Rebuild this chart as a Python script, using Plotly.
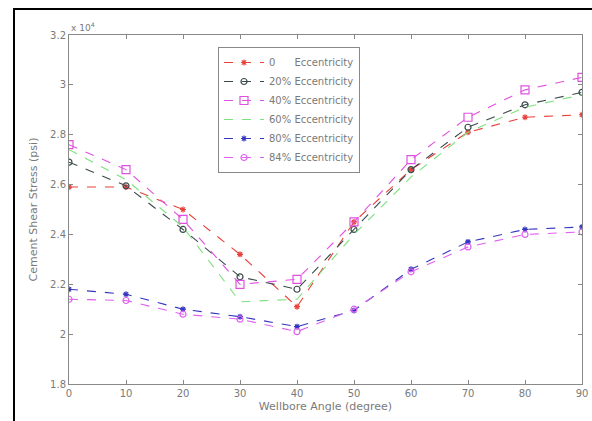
import plotly.graph_objects as go

angles = [0, 10, 20, 30, 40, 50, 60, 70, 80, 90]
ecc_0 = [25900, 25900, 25000, 23200, 21100, 24500, 26600, 28100, 28700, 28800]
ecc_20 = [26900, 25950, 24200, 22300, 21800, 24200, 26600, 28300, 29200, 29700]
ecc_40 = [27600, 26600, 24600, 22000, 22200, 24500, 27000, 28700, 29800, 30300]
ecc_60 = [27400, 26200, 24300, 21300, 21400, 24000, 26300, 28100, 29100, 29600]
ecc_80 = [21800, 21600, 21000, 20700, 20300, 20950, 22600, 23700, 24200, 24300]
ecc_84 = [21400, 21350, 20800, 20600, 20100, 21000, 22500, 23500, 24000, 24100]

names = ["0      Eccentricity", "20% Eccentricity", "40% Eccentricity",
         "60% Eccentricity", "80% Eccentricity", "84% Eccentricity"]
y_tickvals = [18000, 20000, 22000, 24000, 26000, 28000, 30000, 32000]
y_ticktext = ["1.8", "2", "2.2", "2.4", "2.6", "2.8", "3", "3.2"]
x_ticks = [0, 10, 20, 30, 40, 50, 60, 70, 80, 90]

series = [
    (ecc_0, "#e8403a", "asterisk-open", 5),
    (ecc_20, "#3a4a4a", "circle-open", 6),
    (ecc_40, "#e050e0", "square-open", 8),
    (ecc_60, "#7ee07e", None, 0),
    (ecc_80, "#3535c0", "asterisk-open", 5),
    (ecc_84, "#e060f0", "circle-open", 6),
]

FONT = "DejaVu Sans"
GREY = "#7a7a7a"

fig = go.Figure()
for (vals, col, sym, sz), nm in zip(series, names):
    mode = "lines+markers" if sym else "lines"
    marker = dict(symbol=sym, size=sz, color=col, line=dict(color=col, width=1.2)) if sym else None
    fig.add_trace(go.Scatter(
        x=angles, y=vals, name=nm, mode=mode,
        line=dict(color=col, width=1.1, dash="dash"),
        marker=marker,
    ))

axis_common = dict(
    showline=True, linecolor="#888888", linewidth=1, mirror="ticks",
    ticks="inside", ticklen=4, tickcolor="#888888", showgrid=False, zeroline=False,
    automargin=False,
    tickfont=dict(family=FONT, size=10, color=GREY),
)

fig.update_layout(
    width=592, height=421,
    margin=dict(l=69, r=10, t=35, b=37, autoexpand=False),
    paper_bgcolor="white", plot_bgcolor="white",
    xaxis=dict(range=[0, 90], tickvals=x_ticks, **axis_common,
               title=dict(text="Wellbore Angle (degree)", standoff=4,
                          font=dict(family=FONT, size=11, color=GREY))),
    yaxis=dict(range=[18000, 32000], tickvals=y_tickvals, ticktext=y_ticktext, **axis_common,
               title=dict(text="Cement Shear Stress (psi)", standoff=10,
                          font=dict(family=FONT, size=11, color=GREY))),
    legend=dict(x=(218 - 69) / 513, y=(384 - 47) / 349, xanchor="left", yanchor="top",
                bgcolor="white", bordercolor="#888888", borderwidth=1,
                font=dict(family=FONT, size=10, color=GREY),
                tracegroupgap=0, itemwidth=40),
    showlegend=True,
)

fig.add_annotation(x=0, y=1.0, xref="paper", yref="paper", xanchor="left", yanchor="bottom",
                   text="x 10<sup>4</sup>", showarrow=False, xshift=0,
                   font=dict(family=FONT, size=9, color=GREY))

# outer frame of the original figure
fig.add_shape(type="rect", xref="paper", yref="paper",
              x0=(14 - 69) / 513, x1=(640 - 69) / 513,
              y0=(384 - 460) / 349, y1=(384 - 9) / 349,
              line=dict(color="black", width=2), layer="below")

fig.write_html("out.html", config={"displayModeBar": False},
               post_script="document.body.style.margin='0';document.body.style.overflow='hidden';")
